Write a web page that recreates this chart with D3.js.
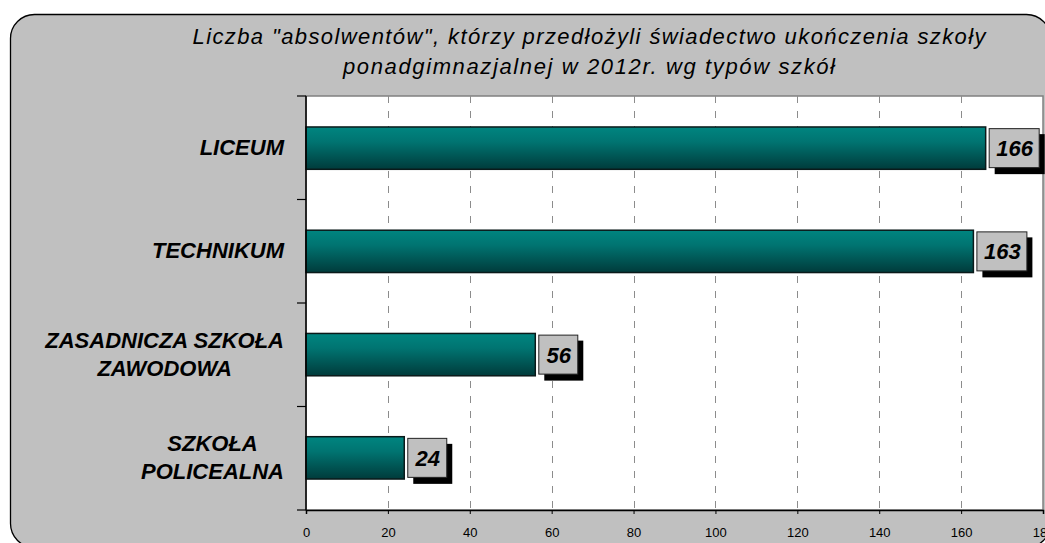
<!DOCTYPE html>
<html>
<head>
<meta charset="utf-8">
<script src="https://cdn.jsdelivr.net/npm/d3@7"></script>
<style>
  body { margin: 0; background: #fff; }
  svg { display: block; font-family: "Liberation Sans", Arial, sans-serif; }
</style>
</head>
<body>
<div id="chart"></div>
<script>
var categories = [["LICEUM"], ["TECHNIKUM"], ["ZASADNICZA SZKOŁA", "ZAWODOWA"], ["SZKOŁA", "POLICEALNA"]];
var values = [166, 163, 56, 24];
var xTicks = [0, 20, 40, 60, 80, 100, 120, 140, 160, 180];
var titleLines = ['Liczba "absolwentów", którzy przedłożyli świadectwo ukończenia szkoły', 'ponadgimnazjalnej w 2012r.  wg typów szkół'];
var titleWidths = [793, 492];

var width = 1045, height = 543;
var plot = {left: 306, right: 1043, top: 96, bottom: 510};

var svg = d3.select("#chart").append("svg")
  .attr("width", width)
  .attr("height", height);

var defs = svg.append("defs");
var grad = defs.append("linearGradient")
  .attr("id", "barGrad")
  .attr("x1", 0).attr("y1", 0).attr("x2", 0).attr("y2", 1);
grad.append("stop").attr("offset", "0%").attr("stop-color", "#008580");
grad.append("stop").attr("offset", "35%").attr("stop-color", "#007471");
grad.append("stop").attr("offset", "100%").attr("stop-color", "#003b3b");

// outer frame
svg.append("rect")
  .attr("x", 10.5).attr("y", 14.5)
  .attr("width", 1040).attr("height", 533)
  .attr("rx", 24).attr("ry", 24)
  .style("fill", "#c0c0c0")
  .style("stroke", "#000")
  .style("stroke-width", 1.3);

// title
svg.append("g").selectAll("text")
  .data(titleLines)
  .enter()
  .append("text")
  .attr("x", 589)
  .attr("y", function(d, i) { return 44 + i * 30; })
  .attr("text-anchor", "middle")
  .attr("textLength", function(d, i) { return titleWidths[i]; })
  .attr("lengthAdjust", "spacing")
  .style("font-size", "22px")
  .style("font-style", "italic")
  .style("fill", "#000")
  .text(function(d) { return d; });

var x = d3.scaleLinear().domain([0, 180]).range([plot.left, plot.right]);
var y = d3.scaleBand().domain(d3.range(values.length)).range([plot.top, plot.bottom]).paddingInner(0.59).paddingOuter(0.3);
var yBand = d3.scaleBand().domain(d3.range(values.length)).range([plot.top, plot.bottom]);

// plot area
svg.append("rect")
  .attr("x", plot.left).attr("y", plot.top)
  .attr("width", plot.right - plot.left).attr("height", plot.bottom - plot.top)
  .style("fill", "#fff")
  .style("stroke", "#808080")
  .style("stroke-width", 1.5);

// grid
svg.append("g").selectAll("line")
  .data(xTicks.slice(1, -1))
  .enter()
  .append("line")
  .attr("x1", function(d) { return Math.round(x(d)) + 0.5; })
  .attr("x2", function(d) { return Math.round(x(d)) + 0.5; })
  .attr("y1", plot.top)
  .attr("y2", plot.bottom)
  .style("stroke", "#8c8c8c")
  .style("stroke-width", 1)
  .style("stroke-dasharray", "7,8");

// bars
svg.append("g").selectAll("rect")
  .data(values)
  .enter()
  .append("rect")
  .attr("x", x(0))
  .attr("y", function(d, i) { return y(i); })
  .attr("width", function(d) { return x(d) - x(0); })
  .attr("height", y.bandwidth())
  .style("fill", "url(#barGrad)")
  .style("stroke", "#0a1a1a")
  .style("stroke-width", 1.5);

// axes
var xAxis = d3.axisBottom(x).tickValues(xTicks).tickSize(4).tickPadding(14);
var gx = svg.append("g")
  .attr("transform", "translate(0," + plot.bottom + ")")
  .call(xAxis);
gx.select(".domain").attr("stroke", "#000").attr("stroke-width", 1.5);
gx.selectAll(".tick line").attr("stroke", "#000");
gx.selectAll("text")
  .style("font-size", "13px")
  .style("font-family", "Liberation Sans, Arial, sans-serif")
  .style("fill", "#000");

var yTicks = d3.range(values.length + 1).map(function(i) { return plot.top + i * yBand.step(); });
svg.append("line")
  .attr("x1", plot.left).attr("x2", plot.left)
  .attr("y1", plot.top).attr("y2", plot.bottom)
  .style("stroke", "#000").style("stroke-width", 1.5);
svg.append("g").selectAll("line")
  .data(yTicks)
  .enter()
  .append("line")
  .attr("x1", plot.left - 9).attr("x2", plot.left)
  .attr("y1", function(d) { return d; })
  .attr("y2", function(d) { return d; })
  .style("stroke", "#000").style("stroke-width", 1.2);

// category labels
var cats = svg.append("g").selectAll("text")
  .data(categories)
  .enter()
  .append("text")
  .attr("text-anchor", "middle")
  .style("font-size", "22px")
  .style("font-weight", "bold")
  .style("font-style", "italic")
  .style("fill", "#000");

cats.each(function(lines, i) {
  var t = d3.select(this);
  var cy = yBand(i) + yBand.bandwidth() / 2;
  var lineH = 28;
  var y0 = cy - (lines.length - 1) * lineH / 2 + 7;
  lines.forEach(function(l, j) {
    t.append("tspan").attr("y", y0 + j * lineH).text(l);
  });
  var maxW = 0;
  t.selectAll("tspan").each(function() {
    maxW = Math.max(maxW, this.getComputedTextLength());
  });
  t.selectAll("tspan").attr("x", 284 - maxW / 2);
});

// value labels
var labels = svg.append("g").selectAll("g")
  .data(values)
  .enter()
  .append("g")
  .attr("transform", function(d, i) {
    return "translate(" + (x(d) + 3) + "," + (y(i) + y.bandwidth() / 2 - 20) + ")";
  });

labels.each(function(d) {
  var g = d3.select(this);
  var w = String(d).length === 3 ? 50 : 39;
  g.append("rect")
    .attr("x", 6).attr("y", 6)
    .attr("width", w).attr("height", 40)
    .style("fill", "#000");
  g.append("rect")
    .attr("x", 0.5).attr("y", 0.5)
    .attr("width", w).attr("height", 39)
    .style("fill", "#c0c0c0")
    .style("stroke", "#222")
    .style("stroke-width", 1);
  g.append("text")
    .attr("x", w / 2 + 1)
    .attr("y", 28)
    .attr("text-anchor", "middle")
    .style("font-size", "22px")
    .style("font-weight", "bold")
    .style("font-style", "italic")
    .style("fill", "#000")
    .text(d);
});
</script>
</body>
</html>
